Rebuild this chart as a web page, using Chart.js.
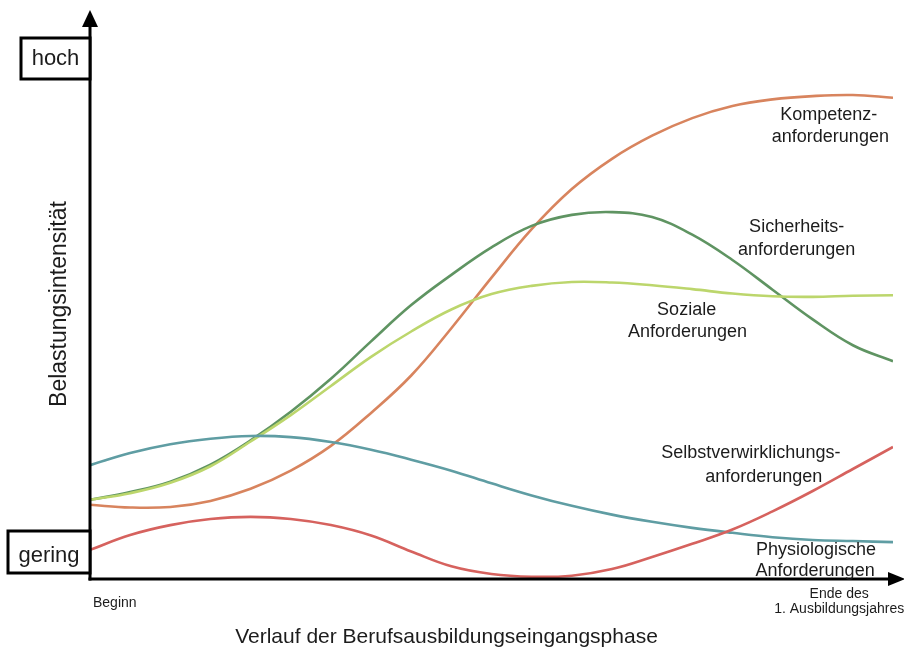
<!DOCTYPE html>
<html>
<head>
<meta charset="utf-8">
<script src="https://cdn.jsdelivr.net/npm/chart.js@4"></script>
<style>
    html, body { margin: 0; padding: 0; background: #ffffff; }
    #wrap { width: 904px; height: 650px; }
</style>
</head>
<body>
<div id="wrap"><canvas id="chart"></canvas></div>
<script>
// --- Daten ---
const phase = [0, 5, 10, 15, 20, 25, 30, 35, 40, 45, 50, 55, 60, 65, 70, 75, 80, 85, 90, 95, 100];

const kompetenz = [13.5, 13.0, 13.1, 14.2, 16.4, 19.7, 24.2, 30.2, 37.0, 45.6, 54.8, 63.6, 70.9, 76.4, 80.6, 83.8, 86.0, 87.2, 87.8, 88.0, 87.5];
const sicherheit = [14.4, 15.8, 17.7, 20.8, 25.2, 30.4, 36.4, 43.2, 49.8, 55.3, 60.3, 64.2, 66.2, 66.7, 65.8, 62.6, 58.0, 52.6, 47.2, 42.5, 39.6];
const soziale = [14.4, 15.6, 17.5, 20.5, 25.0, 29.8, 35.1, 40.4, 45.0, 49.0, 51.8, 53.3, 54.0, 53.9, 53.4, 52.7, 51.9, 51.4, 51.3, 51.5, 51.6];
const physiologisch = [20.7, 22.9, 24.5, 25.5, 26.0, 25.8, 24.9, 23.5, 21.7, 19.7, 17.4, 15.2, 13.3, 11.7, 10.4, 9.3, 8.4, 7.6, 7.1, 6.9, 6.7];
const selbstverwirklichung = [5.3, 8.0, 9.8, 10.9, 11.3, 10.9, 9.8, 7.9, 5.0, 2.3, 0.9, 0.4, 0.6, 1.8, 4.0, 6.4, 9.0, 12.3, 16.0, 20.0, 24.0];

// Beschriftungen der Kurven (Position in Datenkoordinaten)
const kurvenLabels = [
    { text: 'Kompetenz-', x: 92.0, y: 83.5 },
    { text: 'anforderungen', x: 92.2, y: 79.5 },
    { text: 'Sicherheits-', x: 88.0, y: 63.1 },
    { text: 'anforderungen', x: 88.0, y: 58.9 },
    { text: 'Soziale', x: 74.3, y: 48.0 },
    { text: 'Anforderungen', x: 74.4, y: 44.0 },
    { text: 'Selbstverwirklichungs-', x: 82.3, y: 22.0 },
    { text: 'anforderungen', x: 83.9, y: 17.6 },
    { text: 'Physiologische', x: 90.4, y: 4.3 },
    { text: 'Anforderungen', x: 90.3, y: 0.6 }
];

const toPoints = (arr) => arr.map((v, i) => ({ x: phase[i], y: v }));

const FONT = '"Liberation Sans", Arial, Helvetica, sans-serif';
const TEXT = '#1c1c1c';

// --- Achsen mit Pfeilen, Kästchen und Texte ---
const rahmenPlugin = {
    id: 'rahmen',
    afterDatasetsDraw(chart) {
        const { ctx, chartArea, scales } = chart;
        const left = chartArea.left, bottom = chartArea.bottom;

        ctx.save();
        ctx.strokeStyle = '#000';
        ctx.fillStyle = '#000';
        ctx.lineWidth = 3;

        // y-Achse
        ctx.beginPath();
        ctx.moveTo(left, bottom + 1.5);
        ctx.lineTo(left, 24);
        ctx.stroke();
        ctx.beginPath();
        ctx.moveTo(left, 10);
        ctx.lineTo(left - 8, 27);
        ctx.lineTo(left + 8, 27);
        ctx.closePath();
        ctx.fill();

        // x-Achse
        ctx.beginPath();
        ctx.moveTo(left - 1.5, bottom);
        ctx.lineTo(890, bottom);
        ctx.stroke();
        ctx.beginPath();
        ctx.moveTo(905, bottom);
        ctx.lineTo(888, bottom - 7);
        ctx.lineTo(888, bottom + 7);
        ctx.closePath();
        ctx.fill();

        // Kästchen hoch / gering
        ctx.fillStyle = '#fff';
        ctx.fillRect(21, 38, left - 21, 41);
        ctx.strokeRect(21, 38, left - 21, 41);
        ctx.fillRect(8, 531, left - 8, 42);
        ctx.strokeRect(8, 531, left - 8, 42);

        ctx.fillStyle = TEXT;
        ctx.textAlign = 'center';
        ctx.textBaseline = 'alphabetic';
        ctx.font = '22px ' + FONT;
        ctx.fillText('hoch', 55.5, 65);
        ctx.fillText('gering', 49, 562);

        // Kurvenbeschriftung
        ctx.font = '18px ' + FONT;
        kurvenLabels.forEach(l => {
            ctx.fillText(l.text, scales.x.getPixelForValue(l.x), scales.y.getPixelForValue(l.y));
        });

        // Beginn / Ende
        ctx.font = '14px ' + FONT;
        ctx.textAlign = 'left';
        ctx.fillText('Beginn', left + 3, 607);
        ctx.textAlign = 'center';
        ctx.fillText('Ende des', scales.x.getPixelForValue(93.3), 598);
        ctx.fillText('1. Ausbildungsjahres', scales.x.getPixelForValue(93.3), 613);

        ctx.restore();
    }
};

const linie = (label, data, color) => ({
    label: label,
    data: toPoints(data),
    borderColor: color,
    backgroundColor: color,
    borderWidth: 2.6,
    pointRadius: 0,
    tension: 0.4,
    fill: false
});

new Chart(document.getElementById('chart').getContext('2d'), {
    type: 'line',
    data: {
        datasets: [
            linie('Selbstverwirklichungsanforderungen', selbstverwirklichung, '#d6625e'),
            linie('Physiologische Anforderungen', physiologisch, '#5f9da3'),
            linie('Soziale Anforderungen', soziale, '#bcd66c'),
            linie('Sicherheitsanforderungen', sicherheit, '#5f9462'),
            linie('Kompetenzanforderungen', kompetenz, '#d8845e')
        ]
    },
    options: {
        responsive: true,
        maintainAspectRatio: false,
        animation: false,
        layout: { padding: { top: 29, right: 11, left: 0, bottom: 0 } },
        plugins: {
            legend: { display: false },
            tooltip: { enabled: false },
            title: {
                display: true,
                position: 'bottom',
                text: 'Verlauf der Berufsausbildungseingangsphase',
                color: TEXT,
                font: { family: FONT, size: 21, weight: 'normal' },
                padding: { top: 4, bottom: 0 }
            }
        },
        scales: {
            x: {
                type: 'linear',
                min: 0,
                max: 100,
                grid: { display: false },
                border: { display: false },
                ticks: { display: false },
                afterFit: (s) => { s.height = 41.8; }
            },
            y: {
                min: 0,
                max: 100,
                grid: { display: false },
                border: { display: false },
                ticks: { display: false },
                title: {
                    display: true,
                    text: 'Belastungsintensität',
                    color: TEXT,
                    font: { family: FONT, size: 23, weight: 'normal' },
                    padding: { top: 46, bottom: 0 }
                },
                afterFit: (s) => { s.width = 90; }
            }
        }
    },
    plugins: [rahmenPlugin]
});
</script>
</body>
</html>
